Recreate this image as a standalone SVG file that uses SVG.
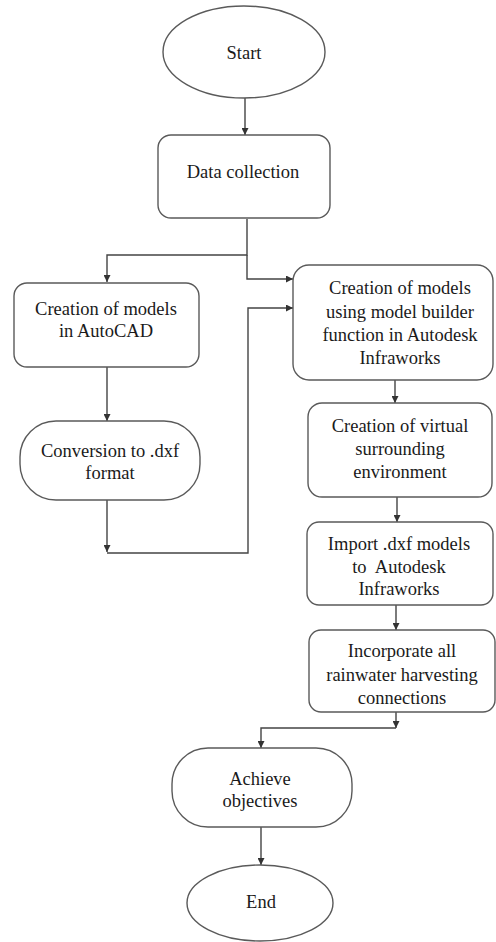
<svg xmlns="http://www.w3.org/2000/svg" width="496" height="942" viewBox="0 0 496 942">
  <style>
    .shape { fill: #ffffff; stroke: #5a5a5a; stroke-width: 1.4; }
    .wire { fill: none; stroke: #444444; stroke-width: 1.4; }
    text { font-family: 'Liberation Serif', 'Times New Roman', Times, serif; font-size: 18.5px; fill: #1a1a1a; text-anchor: middle; }
  </style>
  <defs>
    <marker id="arrow" viewBox="0 0 10 10" refX="10" refY="5" markerWidth="7" markerHeight="7" markerUnits="userSpaceOnUse" orient="auto">
      <path d="M0,0 L10,5 L0,10 z" fill="#333333"/>
    </marker>
  </defs>
  <rect width="496" height="942" fill="#ffffff"/>

  <g id="connectors">
    <path class="wire" d="M245,98 V135" marker-end="url(#arrow)"/>
    <path class="wire" d="M247,219 V255 H107 V282" marker-end="url(#arrow)"/>
    <path class="wire" d="M247,255 V279 H293" marker-end="url(#arrow)"/>
    <path class="wire" d="M107,367 V421" marker-end="url(#arrow)"/>
    <path class="wire" d="M107,500 V552" marker-end="url(#arrow)"/>
    <path class="wire" d="M107,553 H248 V308 H293" marker-end="url(#arrow)"/>
    <path class="wire" d="M395,380 V403" marker-end="url(#arrow)"/>
    <path class="wire" d="M397,497 V522" marker-end="url(#arrow)"/>
    <path class="wire" d="M396,605 V630" marker-end="url(#arrow)"/>
    <path class="wire" d="M396,712 V728" marker-end="url(#arrow)"/>
    <path class="wire" d="M396,728 H261 V748" marker-end="url(#arrow)"/>
    <path class="wire" d="M261,827 V865" marker-end="url(#arrow)"/>
  </g>

  <g id="start">
    <ellipse class="shape" cx="244" cy="52" rx="81" ry="46"/>
    <text x="244" y="59" font-family="Liberation Serif, serif">Start</text>
  </g>

  <g id="data-collection">
    <rect class="shape" x="158" y="135" width="172" height="83" rx="13"/>
    <text x="243" y="178" font-family="Liberation Serif, serif">Data collection</text>
  </g>

  <g id="autocad-models">
    <rect class="shape" x="14" y="283" width="185" height="84" rx="13"/>
    <text x="106" y="315">Creation of models</text>
    <text x="106" y="337">in AutoCAD</text>
  </g>

  <g id="dxf-conversion">
    <rect class="shape" x="20" y="421" width="180" height="79" rx="36"/>
    <text x="110" y="457">Conversion to .dxf</text>
    <text x="110" y="479">format</text>
  </g>

  <g id="model-builder">
    <rect class="shape" x="293" y="265" width="200" height="115" rx="16"/>
    <text x="400" y="294">Creation of models</text>
    <text x="400" y="318">using model builder</text>
    <text x="400" y="341">function in Autodesk</text>
    <text x="400" y="364">Infraworks</text>
  </g>

  <g id="virtual-environment">
    <rect class="shape" x="308" y="403" width="184" height="94" rx="14"/>
    <text x="400" y="432">Creation of virtual</text>
    <text x="400" y="455">surrounding</text>
    <text x="400" y="478">environment</text>
  </g>

  <g id="import-dxf">
    <rect class="shape" x="307" y="522" width="186" height="83" rx="12"/>
    <text x="399" y="550">Import .dxf models</text>
    <text x="399" y="573" xml:space="preserve">to  Autodesk</text>
    <text x="399" y="595">Infraworks</text>
  </g>

  <g id="rainwater-connections">
    <rect class="shape" x="309" y="630" width="186" height="82" rx="12"/>
    <text x="402" y="657">Incorporate all</text>
    <text x="402" y="681">rainwater harvesting</text>
    <text x="402" y="704">connections</text>
  </g>

  <g id="achieve-objectives">
    <rect class="shape" x="172" y="748" width="180" height="79" rx="36"/>
    <text x="260" y="785">Achieve</text>
    <text x="260" y="807">objectives</text>
  </g>

  <g id="end">
    <ellipse class="shape" cx="260" cy="903" rx="73" ry="38"/>
    <text x="261" y="908">End</text>
  </g>
</svg>
